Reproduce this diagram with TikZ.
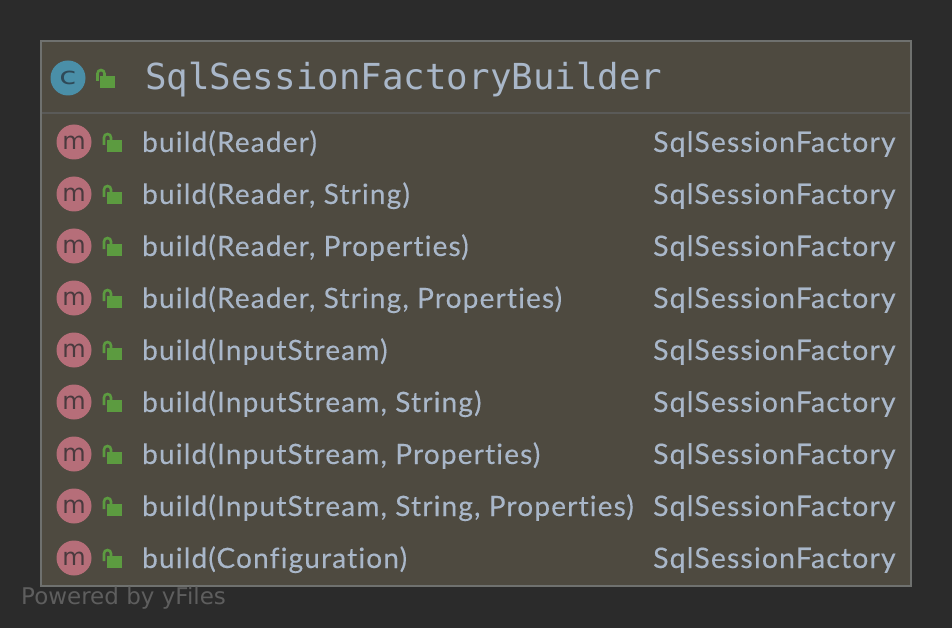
\documentclass[tikz,border=0pt]{standalone}
\usepackage{graphicx}
\usepackage{fontspec}
\setmainfont{Lato}[LetterSpace=4.2,Ligatures=NoCommon,FakeBold=0.25]
\newfontfamily\titlefont{DejaVu Sans Mono}
\newfontfamily\markfont{DejaVu Sans}
\definecolor{bgc}{HTML}{2B2B2B}
\definecolor{boxc}{HTML}{4E4A40}
\definecolor{edgec}{HTML}{6F716F}
\definecolor{sepc}{HTML}{5A5A58}
\definecolor{txtc}{HTML}{A9B7C9}
\definecolor{bluec}{HTML}{4A8FA8}
\definecolor{pinkc}{HTML}{B66E79}
\definecolor{darkm}{HTML}{4A3A3E}
\definecolor{darkc}{HTML}{2F4A58}
\definecolor{lockc}{HTML}{5C9B40}
\definecolor{wmc}{HTML}{5E5E5E}
\tikzset{
  x=1pt,y=-1pt,
  rowtxt/.style={anchor=base west,inner sep=0pt,text=txtc,font=\fontsize{28}{28}\selectfont},
  rettxt/.style={rowtxt,font=\fontsize{28.3}{28}\selectfont},
  iconm/.style={circle,fill=pinkc,minimum size=35pt,inner sep=0pt,text=darkm,font=\markfont\fontsize{24}{24}\selectfont},
  iconc/.style={circle,fill=bluec,minimum size=35pt,inner sep=0pt,text=darkc,font=\markfont\fontsize{24}{24}\selectfont},
  shackle/.style={draw=lockc,line width=2.6pt,fill=none},
}
\newcommand{\lockicon}[2]{%
  \fill[lockc] (#1+4.5,#2+7.5) rectangle (#1+19.5,#2+19.5);
  \draw[shackle] (#1+2,#2+12.5) -- (#1+2,#2+5) arc[start angle=180,end angle=0,x radius=3.5pt,y radius=3.5pt] -- (#1+9,#2+8);
}
\begin{document}
\begin{tikzpicture}
\useasboundingbox (0,0) rectangle (952,628);
\fill[bgc] (0,0) rectangle (952,628);
\node[draw=edgec,line width=2pt,fill=boxc,minimum width=870pt,minimum height=545pt,inner sep=0pt,outer sep=0pt,anchor=north west] (box) at (41,41) {};
\coordinate (sl) at (42,113);
\coordinate (sr) at (910,113);
\draw[sepc,line width=2pt] (sl) -- (sr);
\node[iconc] (cicon) at (68,78) {\raisebox{-6.8pt}[0pt][0pt]{\scalebox{1.3}[1]{c}}};
\lockicon{95.5}{68.5}
\node[anchor=base west,inner sep=0pt,text=txtc,font=\titlefont\fontsize{35.8}{36}\selectfont] (title) at (145,90) {SqlSessionFactoryBuilder};
\foreach \i/\sig in {0/{build(Reader)},1/{build(Reader, String)},2/{build(Reader, Properties)},3/{build(Reader, String, Properties)},4/{build(InputStream)},5/{build(InputStream, String)},6/{build(InputStream, Properties)},7/{build(InputStream, String, Properties)},8/{build(Configuration)}}{
  \pgfmathsetmacro{\yy}{142+52*\i}
  \node[iconm] (m\i) at (74,\yy) {\raisebox{-7.3pt}[0pt][0pt]{m}};
  \lockicon{102}{\yy-9.5}
  \node[rowtxt] (sig\i) at (142,\yy+10) {\sig};
  \node[rettxt] (ret\i) at (653,\yy+10) {SqlSessionFactory};
}
\node[anchor=base west,inner sep=0pt,text=wmc,font=\markfont\fontsize{23}{23}\selectfont] (wm) at (21,604) {Powered by yFiles};
\end{tikzpicture}
\end{document}
